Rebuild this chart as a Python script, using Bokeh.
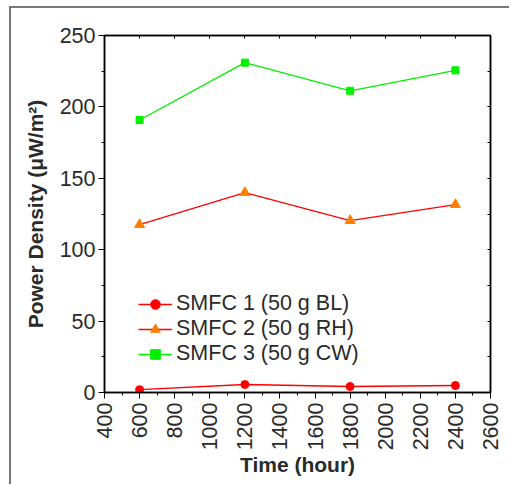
from bokeh.plotting import figure
from bokeh.models import (LinearAxis, SingleIntervalTicker, Range1d, Legend, LegendItem)
from bokeh.embed import file_html
from bokeh.resources import INLINE
import math

time_hours = [600, 1200, 1800, 2400]
smfc1_bl = [2.0, 5.6, 4.2, 4.9]
smfc2_rh = [117.6, 140.0, 120.4, 131.6]
smfc3_cw = [190.8, 231.0, 211.3, 225.6]
series_labels = ["SMFC 1 (50 g BL)", "SMFC 2 (50 g RH)", "SMFC 3 (50 g CW)"]

FONT = "Liberation Sans"
TXT = "#2a2a2a"

p = figure(width=500, height=478, output_backend="svg", toolbar_location=None,
           x_range=Range1d(400, 2600), y_range=Range1d(0, 250),
           min_border_left=93, min_border_right=21, min_border_top=27, min_border_bottom=94,
           x_axis_location=None, y_axis_location=None)
p.xgrid.visible = False
p.ygrid.visible = False
p.outline_line_color = "black"
p.outline_line_width = 1.5
p.styles = {"border-top": "2px solid #777777", "border-left": "2px solid #777777",
            "margin-left": "9px", "margin-top": "6px"}

# bottom axis
xb = LinearAxis(ticker=SingleIntervalTicker(interval=200, num_minor_ticks=2),
                axis_label="Time (hour)")
# left axis
yl = LinearAxis(ticker=SingleIntervalTicker(interval=50, num_minor_ticks=2),
                axis_label="Power Density (\u03bcW/m\u00b2)")
for ax in (xb, yl):
    ax.major_label_text_font = FONT
    ax.major_label_text_font_size = "21.5px"
    ax.major_label_text_color = TXT
    ax.axis_label_text_font = FONT
    ax.axis_label_text_font_size = "21px"
    ax.axis_label_text_font_style = "bold"
    ax.axis_label_text_color = TXT
    ax.major_tick_out = 6
    ax.major_tick_in = 0
    ax.minor_tick_out = 3
    ax.minor_tick_in = 0
    ax.axis_line_color = "black"
    ax.axis_line_width = 1.5
    ax.major_tick_line_color = "black"
    ax.minor_tick_line_color = "black"
xb.major_label_orientation = math.pi / 2
xb.major_label_standoff = 4
xb.axis_label_standoff = 0
yl.major_label_standoff = 3
yl.axis_label_standoff = 10
p.add_layout(xb, "below")
p.add_layout(yl, "left")

# top and right axes: inward ticks, no labels
xt = LinearAxis(ticker=SingleIntervalTicker(interval=200, num_minor_ticks=0))
yr = LinearAxis(ticker=SingleIntervalTicker(interval=25, num_minor_ticks=0))
for ax in (xt, yr):
    ax.major_label_text_font_size = "0px"
    ax.major_label_text_alpha = 0
    ax.major_label_standoff = 0
    ax.major_tick_in = 3
    ax.major_tick_out = 0
    ax.minor_tick_in = 0
    ax.minor_tick_out = 0
    ax.axis_line_color = "black"
    ax.axis_line_width = 1.5
    ax.major_tick_line_color = "black"
p.add_layout(xt, "above")
p.add_layout(yr, "right")

RED = "#ff0000"
ORANGE = "#ff8000"
GREEN = "#00f000"

l1 = p.line(time_hours, smfc1_bl, line_color=RED, line_width=1.3)
m1 = p.scatter(time_hours, smfc1_bl, marker="circle", size=8, fill_color=RED, line_color=RED)
l2 = p.line(time_hours, smfc2_rh, line_color=RED, line_width=1.3)
m2 = p.scatter(time_hours, smfc2_rh, marker="triangle", size=10, fill_color=ORANGE, line_color=ORANGE)
l3 = p.line(time_hours, smfc3_cw, line_color=GREEN, line_width=1.3)
m3 = p.scatter(time_hours, smfc3_cw, marker="square", size=7, fill_color=GREEN, line_color=GREEN)

legend = Legend(items=[LegendItem(label=series_labels[0], renderers=[l1, m1]),
                       LegendItem(label=series_labels[1], renderers=[l2, m2]),
                       LegendItem(label=series_labels[2], renderers=[l3, m3])],
                location=(34, 26), border_line_color=None, background_fill_alpha=0,
                padding=0, margin=0, spacing=0, glyph_width=34, glyph_height=24,
                label_height=24, label_standoff=4,
                label_text_font=FONT, label_text_font_size="21.5px", label_text_color=TXT)
p.add_layout(legend, "center")

open("out.html", "w").write(file_html(p, INLINE))
